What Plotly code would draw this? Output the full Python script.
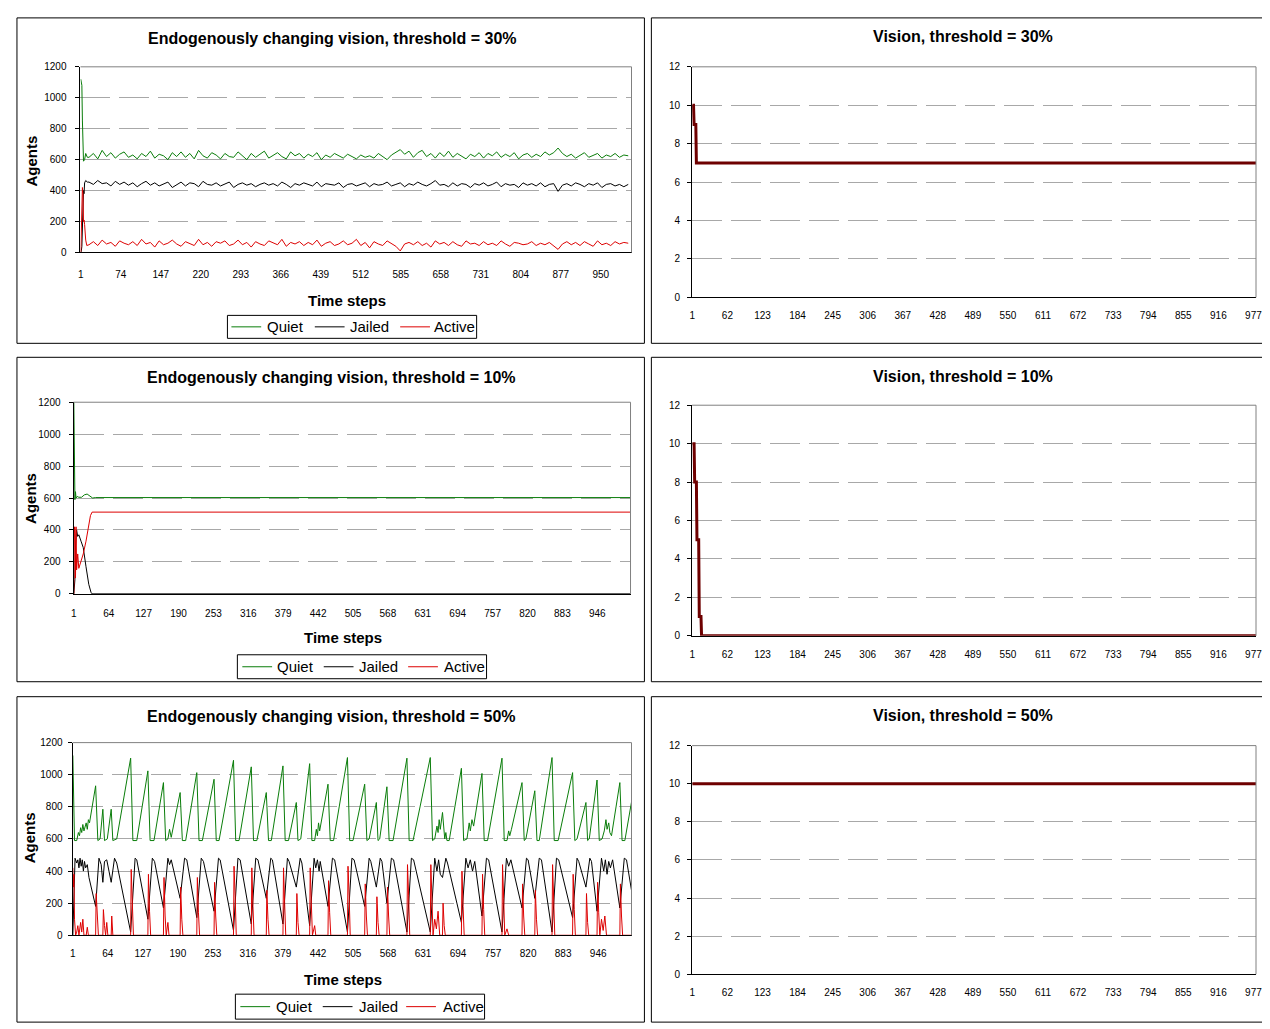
import plotly.graph_objects as go

# ---------------- data ----------------
series_names = ["Quiet", "Jailed", "Active"]

# threshold = 30%: first steps explicit, then one value every 8 steps from t=16
q30_start_t = [1, 2, 3, 4, 5, 6, 8, 10, 13, 16]
q30_start_v = [1120, 1100, 1080, 850, 700, 590, 600, 640, 615, 615]
j30_start_t = [1, 2, 3, 4, 5, 6, 7, 8, 10, 13, 16]
j30_start_v = [0, 10, 40, 150, 300, 400, 380, 450, 465, 455, 455]
a30_start_t = [1, 2, 3, 4, 5, 6, 7, 8, 9, 10, 12, 16]
a30_start_v = [0, 120, 400, 420, 380, 200, 210, 180, 120, 80, 45, 50]

quiet_30 = [615, 640, 605, 660, 620, 645, 610, 635, 650, 615,
            630, 605, 640, 620, 655, 610, 635, 625, 600, 645,
            620, 650, 615, 640, 605, 660, 625, 610, 645, 630,
            605, 640, 620, 615, 650, 625, 600, 640, 615, 635,
            655, 610, 630, 645, 620, 605, 650, 625, 640, 610,
            635, 620, 645, 600, 630, 615, 640, 625, 610, 635,
            620, 605, 630, 615, 625, 610, 640, 620, 600, 630,
            650, 665, 635, 655, 615, 645, 660, 620, 640, 610,
            645, 620, 655, 615, 640, 625, 605, 635, 620, 645,
            610, 640, 625, 650, 615, 635, 620, 645, 605, 630,
            640, 615, 635, 620, 650, 630, 645, 675, 640, 620,
            635, 610, 630, 645, 615, 625, 640, 610, 630, 620,
            640, 615, 630, 625]
jailed_30 = [455, 440, 465, 445, 450, 430, 460, 440, 455, 435,
             450, 425, 445, 460, 435, 450, 430, 445, 455, 420,
             440, 455, 430, 450, 445, 425, 460, 440, 435, 450,
             430, 445, 455, 420, 440, 450, 435, 445, 425, 440,
             450, 435, 445, 430, 455, 440, 420, 445, 435, 450,
             440, 430, 455, 425, 445, 440, 435, 450, 420, 440,
             445, 430, 440, 450, 425, 445, 435, 440, 455, 430,
             440, 450, 425, 445, 435, 455, 440, 430, 445, 465,
             435, 440, 425, 450, 430, 445, 440, 420, 445, 435,
             450, 430, 440, 455, 425, 445, 435, 440, 420, 450,
             435, 445, 430, 450, 425, 440, 445, 395, 435, 445,
             430, 450, 440, 425, 445, 435, 450, 420, 440, 445,
             430, 440, 425, 440]
active_30 = [50, 70, 45, 80, 55, 65, 40, 75, 60, 50,
             70, 45, 85, 55, 65, 35, 75, 50, 60, 80,
             55, 40, 70, 60, 45, 85, 50, 65, 40, 70,
             60, 75, 45, 55, 80, 50, 65, 35, 70, 55,
             45, 75, 60, 50, 85, 40, 65, 55, 70, 45,
             65, 50, 80, 40, 60, 70, 45, 55, 75, 50,
             60, 85, 45, 65, 30, 70, 55, 45, 75, 60,
             40, 10, 55, 65, 50, 70, 45, 60, 35, 75,
             55, 65, 45, 70, 50, 40, 75, 55, 60, 45,
             70, 50, 60, 45, 75, 55, 40, 65, 60, 50,
             55, 70, 45, 60, 50, 65, 40, 20, 55, 70,
             50, 65, 45, 70, 55, 40, 75, 50, 60, 45,
             70, 55, 65, 60]

# threshold = 10%
q10_t = [1, 2, 3, 4, 5, 7, 10, 15, 20, 25, 30, 35, 40, 1006]
q10_v = [1200, 640, 590, 640, 600, 610, 605, 605, 620, 625, 610, 600, 603, 603]
j10_t = [1, 3, 4, 6, 8, 10, 14, 18, 23, 28, 32, 34, 1006]
j10_v = [0, 90, 300, 400, 360, 370, 330, 290, 170, 60, 10, 0, 0]
a10_t = [1, 2, 3, 4, 5, 6, 8, 10, 14, 18, 23, 28, 31, 34, 1006]
a10_v = [0, 420, 380, 100, 420, 150, 250, 160, 200, 250, 330, 440, 490, 512, 512]

# threshold = 50%
q50_t = [1, 2, 4, 8, 11, 13, 15, 17, 19, 21, 23, 25, 27, 29, 31, 34,
         42, 46, 50, 55, 58, 63, 70, 73, 80, 105, 109, 116, 136, 140, 147,
         164, 168, 172, 175, 178, 194, 198, 204, 224, 228, 234, 255, 259, 264,
         290, 294, 300, 322, 326, 332, 349, 353, 358, 379, 383, 389, 403, 406, 411,
         427, 431, 436, 439, 441, 443, 445, 460, 464, 470, 495, 499, 505,
         526, 530, 534, 547, 550, 553, 566, 570, 577, 602, 606, 613,
         644, 648, 652, 656, 658, 660, 662, 666, 670, 672, 674, 678,
         700, 704, 710, 714, 716, 719, 722, 737, 741, 747,
         773, 777, 782, 785, 787, 790, 809, 813, 816, 832, 836, 840,
         863, 867, 874, 900, 904, 908, 924, 927, 930,
         944, 948, 953, 957, 960, 962, 965, 967, 970, 985, 989, 994, 1006]
q50_v = [1120, 850, 590, 590, 640, 620, 670, 640, 690, 650, 680, 700, 660, 720, 700, 760,
         931, 590, 600, 785, 590, 600, 785, 590, 600, 1103, 590, 590, 1024, 590, 590,
         951, 590, 600, 660, 610, 889, 590, 590, 1013, 590, 590, 972, 590, 590,
         1090, 590, 590, 1049, 590, 590, 889, 590, 590, 1055, 590, 590, 827, 590, 600,
         1069, 590, 590, 660, 620, 700, 650, 941, 590, 590, 1107, 590, 590,
         941, 590, 600, 827, 590, 600, 925, 590, 590, 1103, 590, 590,
         1107, 590, 600, 680, 640, 720, 660, 765, 600, 640, 590, 590,
         1040, 590, 600, 700, 650, 720, 680, 1008, 590, 590,
         1103, 590, 590, 650, 620, 660, 951, 590, 600, 900, 590, 590,
         1107, 590, 590, 1013, 590, 600, 827, 590, 600,
         967, 590, 600, 650, 720, 660, 700, 640, 620, 951, 590, 590, 830]
j50_t = [1, 3, 5, 8, 10, 12, 14, 16, 18, 20, 22, 24, 27, 30, 42, 48, 52, 55, 58, 62,
         70, 76, 80, 105, 113, 116, 136, 144, 148, 164, 172, 175, 178, 194, 202, 206,
         224, 232, 236, 255, 263, 266, 290, 298, 302, 322, 330, 334, 349, 357, 360,
         379, 387, 390, 403, 410, 413, 427, 435, 438, 441, 444, 446, 460, 468, 472,
         495, 503, 507, 526, 534, 537, 547, 554, 557, 566, 574, 578, 602, 610, 614,
         644, 652, 656, 659, 662, 666, 672, 675, 700, 708, 712, 716, 720, 724,
         737, 745, 749, 773, 781, 785, 789, 809, 817, 820, 832, 840, 844,
         863, 871, 875, 900, 908, 911, 924, 931, 934, 944, 952, 956, 959, 962, 965, 968, 972,
         985, 993, 997, 1006]
j50_v = [0, 300, 480, 450, 470, 420, 480, 430, 470, 400, 460, 420, 440, 360, 180, 480, 440, 330, 460, 470,
         330, 480, 450, 20, 480, 470, 100, 480, 460, 170, 480, 440, 470, 230, 480, 470,
         110, 480, 460, 150, 480, 470, 30, 480, 470, 70, 480, 470, 230, 480, 470,
         70, 480, 460, 300, 480, 450, 60, 480, 420, 470, 400, 460, 180, 480, 470,
         20, 480, 470, 180, 480, 460, 300, 480, 460, 200, 480, 470, 20, 480, 470,
         20, 480, 400, 470, 380, 360, 480, 450, 80, 480, 420, 470, 400, 460,
         120, 480, 470, 20, 480, 430, 470, 170, 480, 470, 230, 480, 470,
         20, 480, 470, 110, 480, 460, 300, 480, 460, 150, 480, 400, 470, 380, 460, 420, 470,
         170, 480, 470, 280]
a50_t = [1, 2, 3, 4, 6, 8, 10, 12, 15, 17, 19, 21, 25, 27, 29,
         42, 43, 45, 47, 55, 56, 58, 60, 62, 64, 70, 71, 73,
         105, 106, 108, 110, 136, 137, 139, 141, 164, 165, 167, 169, 172, 174,
         194, 195, 197, 199, 224, 225, 227, 229, 255, 256, 258, 260,
         290, 291, 293, 295, 322, 323, 325, 327, 349, 350, 352, 354,
         379, 380, 382, 384, 403, 404, 406, 408, 427, 428, 430, 432, 436, 438,
         460, 461, 463, 465, 495, 496, 498, 500, 526, 527, 529, 531,
         547, 548, 550, 552, 566, 567, 569, 571, 602, 603, 605, 607,
         644, 645, 647, 649, 652, 655, 658, 661, 666, 667, 669, 671,
         700, 701, 703, 705, 737, 738, 740, 742, 773, 774, 776, 778, 782, 785,
         809, 810, 812, 814, 832, 833, 835, 837, 863, 864, 866, 868,
         900, 901, 903, 905, 924, 925, 927, 929, 944, 945, 947, 949, 952, 955, 958, 961,
         985, 986, 988, 990, 1006]
a50_v = [420, 300, 380, 100, 0, 20, 60, 0, 80, 20, 100, 0, 0, 50, 0,
         0, 260, 120, 0, 0, 160, 60, 0, 80, 0, 0, 120, 0,
         0, 410, 200, 0, 0, 380, 150, 0, 0, 360, 120, 0, 80, 0,
         0, 300, 100, 0, 0, 360, 140, 0, 0, 330, 120, 0,
         0, 430, 250, 0, 0, 420, 180, 0, 0, 280, 100, 0,
         0, 420, 200, 0, 0, 260, 80, 0, 0, 420, 200, 0, 60, 0,
         0, 340, 140, 0, 0, 430, 250, 0, 0, 320, 120, 0,
         0, 240, 80, 0, 0, 300, 120, 0, 0, 440, 250, 0,
         0, 440, 220, 0, 100, 40, 150, 0, 0, 200, 60, 0,
         0, 400, 180, 0, 0, 380, 160, 0, 0, 440, 230, 0, 40, 0,
         0, 320, 120, 0, 0, 280, 100, 0, 0, 440, 220, 0,
         0, 380, 160, 0, 0, 260, 80, 0, 0, 330, 140, 0, 100, 30, 120, 0,
         0, 320, 120, 0, 0]

# vision series
v30_t = [1, 3, 4, 7, 8, 1000]
v30_v = [10, 10, 9, 9, 7, 7]
v10_t = [1, 4, 5, 8, 9, 12, 13, 16, 17, 1000]
v10_v = [10, 10, 8, 8, 5, 5, 1, 1, 0, 0]
v50_t = [1, 1000]
v50_v = [10, 10]

ticks_30 = [1, 74, 147, 220, 293, 366, 439, 512, 585, 658, 731, 804, 877, 950]
ticks_10 = [1, 64, 127, 190, 253, 316, 379, 442, 505, 568, 631, 694, 757, 820, 883, 946]
ticks_vis = [1, 62, 123, 184, 245, 306, 367, 428, 489, 550, 611, 672, 733, 794, 855, 916, 977]

# ---------------- layout helpers ----------------
W, H = 1254, 1021
OFF = 8  # default body margin of the html page
FONT = "Liberation Sans"
GREEN, BLACK, RED, MAROON = "#0a7d0a", "#000000", "#dd0000", "#6e0000"
COLORS = [GREEN, BLACK, RED]


def fx(xs):
    # screen px -> paper fraction
    return (xs - OFF) / W


def fy(ys):
    yp = 17 + (ys - 22) / 0.99
    return 1 - (yp - OFF) / H


fig = go.Figure()


def line(x, y, color, width, n, x0=None, dx=None):
    kw = dict(x=x) if x is not None else dict(x0=x0, dx=dx)
    fig.add_trace(go.Scatter(y=y, mode="lines", line=dict(color=color, width=width),
                             showlegend=False, xaxis="x" + n, yaxis="y" + n,
                             hoverinfo="skip", **kw))


# panel 1 : threshold 30 %
line(q30_start_t, q30_start_v, GREEN, 1, "")
line(None, quiet_30, GREEN, 1, "", 16, 8)
line(j30_start_t, j30_start_v, BLACK, 1, "")
line(None, jailed_30, BLACK, 1, "", 16, 8)
line(a30_start_t, a30_start_v, RED, 1, "")
line(None, active_30, RED, 1, "", 16, 8)
# panel 3 : threshold 10 %
line(q10_t, q10_v, GREEN, 1, "3")
line(j10_t, j10_v, BLACK, 1, "3")
line(a10_t, a10_v, RED, 1, "3")
# panel 5 : threshold 50 %
line(q50_t, q50_v, GREEN, 1, "5")
line(j50_t, j50_v, BLACK, 1, "5")
line(a50_t, a50_v, RED, 1, "5")
# vision panels
line(v30_t, v30_v, MAROON, 3, "2")
line(v10_t, v10_v, MAROON, 3, "4")
line(v50_t, v50_v, MAROON, 3, "6")

tickfont = dict(family=FONT, size=10, color="black")
gridcol = "#a8a8a8"
XR = OFF + W
vis_range = [0.5, (XR - 694) / 0.579 + 0.5]

# (suffix, x-left, x-right, y-top, y-bottom, x-range, tickvals, y-max, dtick, x label gap, y label gap)
plots = [
    ("", 78, 633, 66, 252, [0.5, 1006], ticks_30, 1200, 200, 13, 7),
    ("3", 71, 632, 402, 594, [0.5, 1006], ticks_10, 1200, 200, 10, 6),
    ("5", 70, 633, 743, 936, [0.5, 1006], ticks_10, 1200, 200, 9, 3),
    ("2", 694, XR, 66, 297, vis_range, ticks_vis, 12, 2, 9, 5),
    ("4", 694, XR, 405, 636, vis_range, ticks_vis, 12, 2, 9, 5),
    ("6", 694, XR, 746, 975, vis_range, ticks_vis, 12, 2, 9, 5),
]

layout = {}
shapes = []
for n, xl, xr, yt, yb, xr_, tv, ymax, dt, gap, ygap in plots:
    layout["xaxis" + n] = dict(domain=[fx(xl), min(1, fx(xr))], range=xr_, anchor="y" + n,
                               tickmode="array", tickvals=tv, showgrid=False, zeroline=False,
                               showline=True, linecolor="black", linewidth=1,
                               ticks="outside", ticklen=gap, tickcolor="rgba(0,0,0,0)",
                               ticklabeloverflow="allow",
                               tickfont=tickfont, fixedrange=True)
    layout["yaxis" + n] = dict(domain=[fy(yb), fy(yt)], range=[0, ymax], anchor="x" + n,
                               dtick=dt, showgrid=True, gridcolor=gridcol, griddash="30px,9px",
                               gridwidth=1, zeroline=False, showline=True, linecolor="black",
                               linewidth=1, ticks="outside", ticklen=4, tickcolor="black",
                               ticklabelstandoff=ygap,
                               tickfont=tickfont, fixedrange=True)
    # grey frame on top and right of plot area
    shapes.append(dict(type="line", xref="x%s domain" % n, yref="y%s domain" % n,
                       x0=0, x1=1, y0=1, y1=1, line=dict(color="#808080", width=1)))
    shapes.append(dict(type="line", xref="x%s domain" % n, yref="y%s domain" % n,
                       x0=1, x1=1, y0=0, y1=1, line=dict(color="#808080", width=1)))

# outer panel boxes
for x0, x1 in [(14, 646), (653, 1290)]:
    for y0, y1 in [(17, 343), (357, 682), (697, 1023)]:
        shapes.append(dict(type="rect", xref="paper", yref="paper",
                           x0=fx(x0), x1=fx(x1), y0=fy(y1), y1=fy(y0),
                           line=dict(color="black", width=1), layer="below"))

annotations = []


def text(s, px, py, size=12, bold=True, angle=0, anchor="center"):
    annotations.append(dict(text="<b>%s</b>" % s if bold else s, x=fx(px), y=fy(py),
                            xref="paper", yref="paper", showarrow=False, textangle=angle,
                            xanchor=anchor, yanchor="middle",
                            font=dict(family=FONT, size=size, color="black")))


text("Endogenously changing vision, threshold = 30%", 332, 38, 16)
text("Endogenously changing vision, threshold = 10%", 331, 377, 16)
text("Endogenously changing vision, threshold = 50%", 331, 717, 16)
text("Vision, threshold = 30%", 967, 36, 16)
text("Vision, threshold = 10%", 967, 376, 16)
text("Vision, threshold = 50%", 967, 716, 16)
text("Time steps", 346, 300, 15)
text("Time steps", 342, 638, 15)
text("Time steps", 342, 980, 15)
text("Agents", 29, 160, 15, angle=-90)
text("Agents", 27, 498, 15, angle=-90)
text("Agents", 27, 838, 15, angle=-90)

# hand-drawn legend boxes (box x0, x1, y0, y1, line starts, text starts)
legends = [
    (226, 477, 315, 338, [230, 314, 400], [264, 347, 432]),
    (236, 487, 655, 679, [241, 323, 408], [274, 357, 442]),
    (234, 485, 995, 1020, [239, 322, 406], [273, 356, 441]),
]
for bx0, bx1, by0, by1, lx, tx in legends:
    shapes.append(dict(type="rect", xref="paper", yref="paper",
                       x0=fx(bx0), x1=fx(bx1), y0=fy(by1), y1=fy(by0),
                       line=dict(color="black", width=1), fillcolor="white"))
    ym = (by0 + by1) / 2
    for name, col, l0, t0 in zip(series_names, COLORS, lx, tx):
        shapes.append(dict(type="line", xref="paper", yref="paper",
                           x0=fx(l0), x1=fx(l0 + 30), y0=fy(ym), y1=fy(ym),
                           line=dict(color=col, width=1)))
        text(name, t0, ym, 15, bold=False, anchor="left")

fig.update_layout(width=W, height=H, margin=dict(l=0, r=0, t=0, b=0), autosize=False,
                  paper_bgcolor="white", plot_bgcolor="white",
                  font=dict(family=FONT, size=10, color="black"),
                  shapes=shapes, annotations=annotations, **layout)

fig.write_html("out.html")
